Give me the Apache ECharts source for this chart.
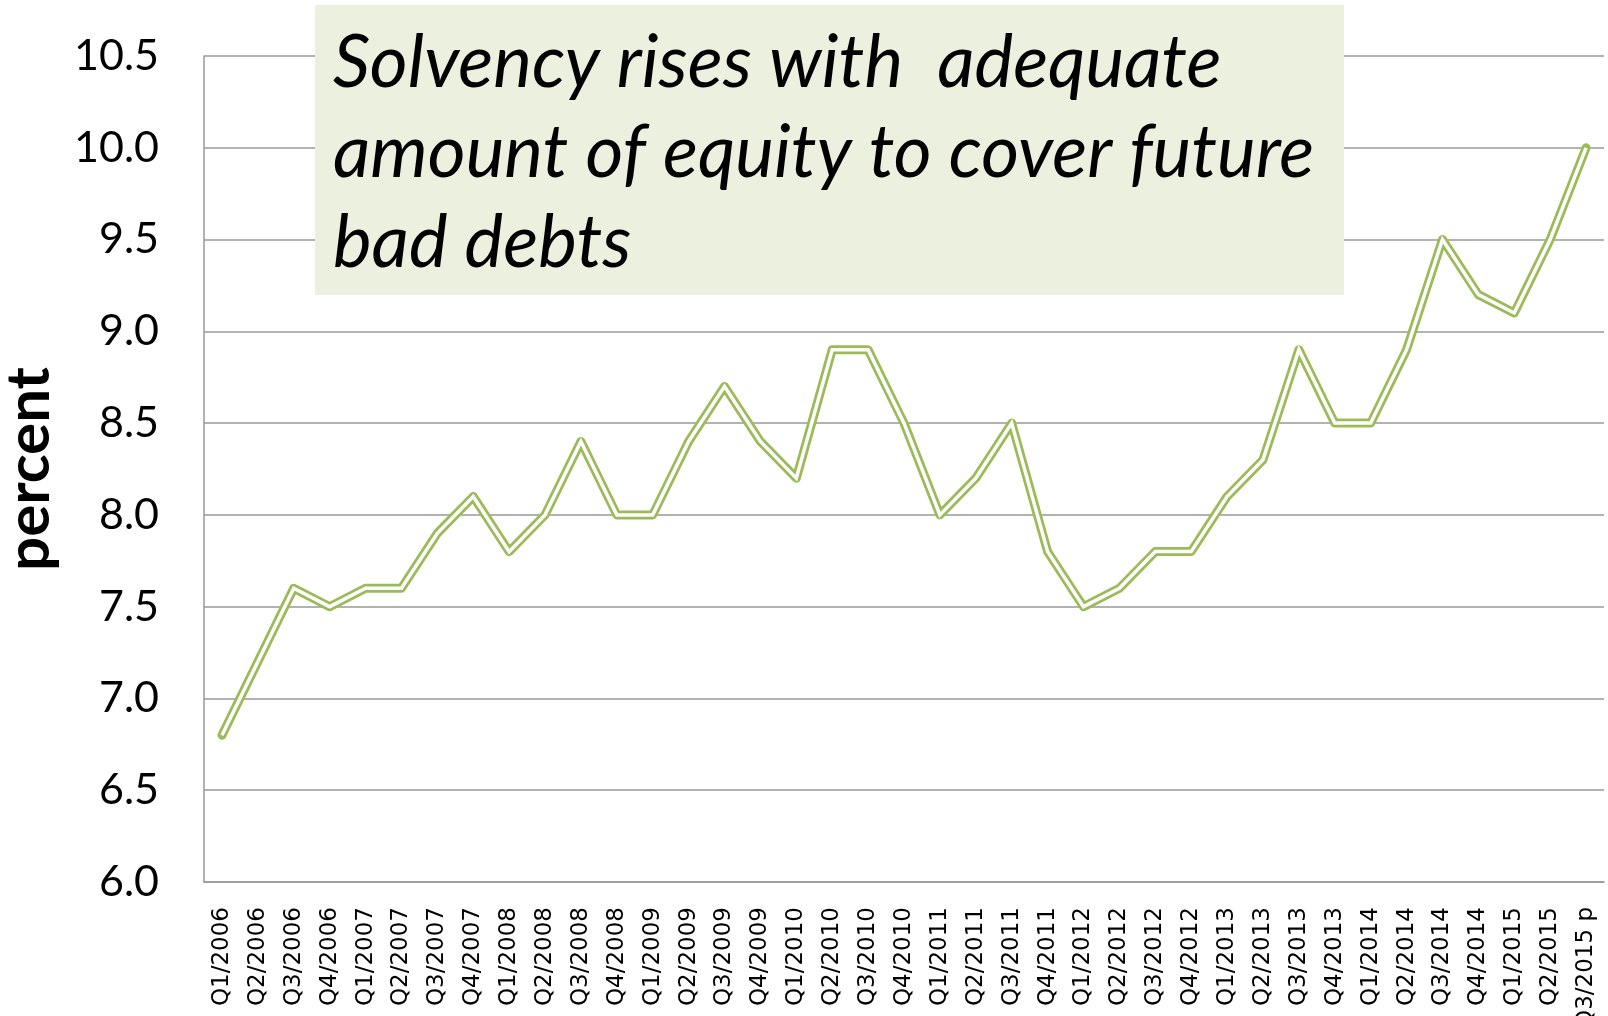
<!DOCTYPE html>
<html>
<head>
<meta charset="utf-8">
<script src="https://cdn.jsdelivr.net/npm/echarts@6/dist/echarts.min.js"></script>
<style>
html,body{margin:0;padding:0;background:#fff;}
#chart{width:1608px;height:1016px;}
</style>
</head>
<body>
<div id="chart"></div>
<script>
var categories = ["Q1/2006","Q2/2006","Q3/2006","Q4/2006","Q1/2007","Q2/2007","Q3/2007","Q4/2007",
  "Q1/2008","Q2/2008","Q3/2008","Q4/2008","Q1/2009","Q2/2009","Q3/2009","Q4/2009",
  "Q1/2010","Q2/2010","Q3/2010","Q4/2010","Q1/2011","Q2/2011","Q3/2011","Q4/2011",
  "Q1/2012","Q2/2012","Q3/2012","Q4/2012","Q1/2013","Q2/2013","Q3/2013","Q4/2013",
  "Q1/2014","Q2/2014","Q3/2014","Q4/2014","Q1/2015","Q2/2015","Q3/2015 p"];
var solvency = [6.8,7.2,7.6,7.5,7.6,7.6,7.9,8.1,
  7.8,8.0,8.4,8.0,8.0,8.4,8.7,8.4,
  8.2,8.9,8.9,8.5,8.0,8.2,8.5,7.8,
  7.5,7.6,7.8,7.8,8.1,8.3,8.9,8.5,
  8.5,8.9,9.5,9.2,9.1,9.5,10.0];
var yAxisName = "percent";
var annotation = "Solvency rises with  adequate\namount of equity to cover future\nbad debts";

var chart = echarts.init(document.getElementById('chart'));
chart.setOption({
  animation: false,
  backgroundColor: '#ffffff',
  grid: {left: 204, right: 4, top: 56, bottom: 134, containLabel: false, outerBoundsMode: 'none'},
  xAxis: {
    type: 'category',
    data: categories,
    boundaryGap: true,
    axisLine: {show: true, lineStyle: {color: '#999999', width: 1.5}},
    axisTick: {show: false},
    axisLabel: {interval: 0, rotate: 90, margin: 25, fontFamily: 'DejaVu Sans', fontSize: 23, color: '#000'}
  },
  yAxis: {
    type: 'value',
    min: 6.0, max: 10.5, interval: 0.5,
    name: yAxisName,
    nameLocation: 'middle',
    nameRotate: 90,
    nameGap: 144,
    nameTextStyle: {fontFamily: 'Lato', fontWeight: 'bold', fontSize: 60, color: '#000'},
    axisLine: {show: true, lineStyle: {color: '#999999', width: 1.5}},
    axisTick: {show: false},
    splitLine: {show: true, lineStyle: {color: '#999999', width: 1.5}},
    axisLabel: {margin: 45, fontFamily: 'Lato', fontSize: 43, color: '#000',
      formatter: function(v){ return v.toFixed(1); }}
  },
  series: [
    {type: 'line', data: solvency, symbol: 'none', lineStyle: {color: '#9BBB59', width: 9, join: 'round', cap: 'round'}, z: 2},
    {type: 'line', data: solvency, symbol: 'none', lineStyle: {color: '#ffffff', width: 3.5, join: 'miter'}, z: 3}
  ],
  graphic: [
    {type: 'rect', left: 315, top: 5, shape: {width: 1029, height: 290}, style: {fill: '#EBF1DE'}, z: 10},
    {type: 'text', left: 333, top: 18, z: 11,
      style: {text: annotation, font: 'italic 73px Lato', fill: '#000', lineHeight: 90}}
  ]
});
</script>
</body>
</html>
